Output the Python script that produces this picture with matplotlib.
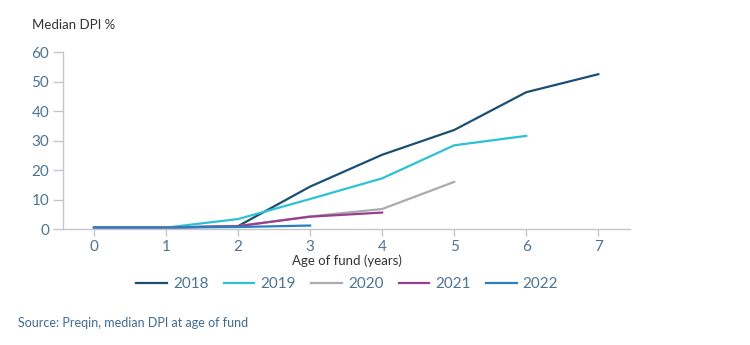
import matplotlib
matplotlib.use("Agg")
import matplotlib.pyplot as plt

plt.rcParams['font.family'] = ['Lato', 'DejaVu Sans']

# dane
vintages = ["2018", "2019", "2020", "2021", "2022"]
ages = [0, 1, 2, 3, 4, 5, 6, 7]
dpi_2018 = [0.5, 0.5, 1.0, 14.4, 25.2, 33.6, 46.4, 52.5]
dpi_2019 = [0.5, 0.5, 3.4, 10.2, 17.2, 28.4, 31.6]
dpi_2020 = [0.5, 0.5, 1.0, 4.3, 6.8, 16.0]
dpi_2021 = [0.5, 0.5, 1.0, 4.2, 5.6]
dpi_2022 = [0.5, 0.5, 0.7, 1.2]
series = [dpi_2018, dpi_2019, dpi_2020, dpi_2021, dpi_2022]
colors = ["#1b4e72", "#2cc2d2", "#a9abae", "#9a3f8d", "#2b7ec0"]

tick_col = "#4d7394"
axis_col = "#c3c7cc"

fig = plt.figure(figsize=(7.5, 3.45), dpi=100)
ax = fig.add_axes([0.084, 0.336, 0.756, 0.513])

for name, vals, c in zip(vintages, series, colors):
    ax.plot(ages[:len(vals)], vals, color=c, lw=1.6, label=name)

ax.set_xlim(-0.43, 7.44)
ax.set_ylim(0, 60)
ax.set_xticks(ages)
ax.set_yticks(range(0, 61, 10))
for s in ["top", "right"]:
    ax.spines[s].set_visible(False)
for s in ["left", "bottom"]:
    ax.spines[s].set_color(axis_col)
    ax.spines[s].set_linewidth(1.0)
ax.tick_params(axis="y", length=7, width=1, color=axis_col, labelcolor=tick_col,
               labelsize=11, pad=3)
ax.tick_params(axis="x", length=5, width=1, color=axis_col, labelcolor=tick_col,
               labelsize=11, pad=3)

ax.set_xlabel("Age of fund (years)", fontsize=9.5, color="#333333", labelpad=0)

fig.text(0.043, 0.927, "Median DPI %", fontsize=9.5, color="#333333", va="center")
fig.text(0.024, 0.064, "Source: Preqin, median DPI at age of fund", fontsize=9,
         color="#3f6a8f", va="center")

leg = fig.legend(loc="center", bbox_to_anchor=(0.463, 0.176), ncol=5, frameon=False,
                 fontsize=11, handlelength=2.0, columnspacing=1.0, handletextpad=0.4)
for t in leg.get_texts():
    t.set_color(tick_col)

fig.savefig("out.png", dpi=100)
